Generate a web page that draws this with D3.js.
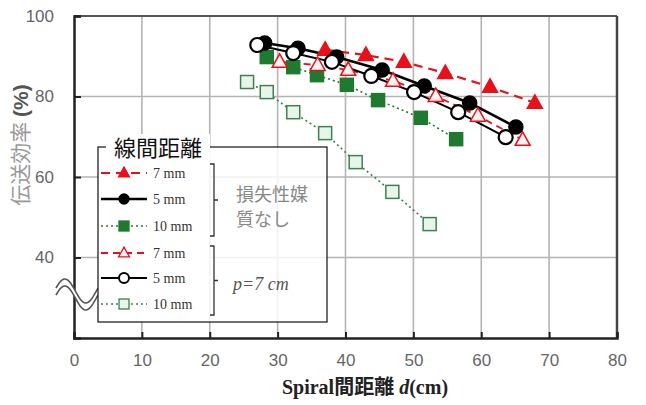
<!DOCTYPE html>
<html><head><meta charset="utf-8">
<script src="https://cdn.jsdelivr.net/npm/d3@7"></script>
<style>body{margin:0;background:#fff}svg{display:block}</style>
</head><body>
<script>
// ---- data ----
const xTicks = [0,10,20,30,40,50,60,70,80];
const yTicks = [40,60,80,100];
const lossless7_d   = [37.0, 43.0, 48.6, 54.7, 61.3, 67.9];
const lossless7_eff = [91.6, 90.3, 88.6, 85.8, 82.4, 78.4];
const lossless5_d   = [28.1, 33.0, 38.7, 45.4, 51.6, 58.3, 65.1];
const lossless5_eff = [93.3, 92.0, 89.8, 86.6, 82.6, 78.4, 72.4];
const lossless10_d   = [28.4, 32.3, 35.8, 40.2, 44.8, 51.1, 56.3];
const lossless10_eff = [89.8, 87.3, 85.3, 82.9, 79.1, 74.7, 69.4];
const p7_7_d   = [30.3, 35.9, 40.4, 47.0, 53.3, 59.5, 66.1];
const p7_7_eff = [88.6, 87.8, 86.6, 83.9, 80.1, 75.2, 69.2];
const p7_5_d   = [27.0, 32.3, 38.0, 43.8, 50.1, 56.6, 63.6];
const p7_5_eff = [92.8, 90.8, 88.6, 85.1, 81.1, 76.1, 69.9];
const p7_10_d   = [25.5, 28.4, 32.3, 37.0, 41.5, 46.9, 52.4];
const p7_10_eff = [83.6, 81.1, 76.1, 70.9, 63.7, 56.3, 48.3];
const legendLabels = ["7 mm","5 mm","10 mm","7 mm","5 mm","10 mm"];
const groupLabels = [["損失性媒","質なし"],["p=7 cm"]];
const legendTitle = "線間距離";
const xTitle = ["Spiral間距離 ","d","(cm)"];
const yTitle = ["伝送効率 ","(%)"];

const RED="#e8101a", GREEN="#1f7a30", GREEN_O="#3f7f52";
const styles = [
  {d:lossless10_d, e:lossless10_eff, shape:"sq", fill:GREEN, stroke:GREEN, line:GREEN, dash:"2,3", lw:1.6},
  {d:p7_10_d, e:p7_10_eff, shape:"sq", fill:"#e6f7ea", stroke:GREEN_O, line:GREEN_O, dash:"2,3", lw:1.6},
  {d:lossless7_d, e:lossless7_eff, shape:"tri", fill:RED, stroke:RED, line:RED, dash:"9,6", lw:2.2},
  {d:p7_7_d, e:p7_7_eff, shape:"tri", fill:"#fff2f2", stroke:RED, line:RED, dash:"7,5", lw:1.8},
  {d:lossless5_d, e:lossless5_eff, shape:"circ", fill:"#000", stroke:"#000", line:"#000", dash:null, lw:2.6},
  {d:p7_5_d, e:p7_5_eff, shape:"circ", fill:"#fff", stroke:"#000", line:"#000", dash:null, lw:2},
];

const W=646,H=405;
const svg=d3.select("body").append("svg").attr("width",W).attr("height",H);
const x=d3.scaleLinear().domain([0,80]).range([74,617]);
const y=d3.scaleLinear().domain([20,100]).range([338,16]);

// grid
svg.append("g").selectAll("line").data(xTicks.filter(t=>t>0&&t<80)).join("line")
  .attr("x1",d=>x(d)).attr("x2",d=>x(d)).attr("y1",y(100)).attr("y2",y(20))
  .attr("stroke","#b4b4b4").attr("stroke-width",1.6);
svg.append("g").selectAll("line").data(yTicks.filter(t=>t<100)).join("line")
  .attr("x1",x(0)).attr("x2",x(80)).attr("y1",d=>y(d)).attr("y2",d=>y(d))
  .attr("stroke","#b4b4b4").attr("stroke-width",1.6);

// frame
svg.append("line").attr("x1",x(0)).attr("x2",x(80)).attr("y1",y(100)).attr("y2",y(100)).attr("stroke","#555").attr("stroke-width",2);
svg.append("line").attr("x1",x(80)).attr("x2",x(80)).attr("y1",y(100)).attr("y2",y(20)).attr("stroke","#444").attr("stroke-width",2.5);

// axes via d3
const xAxis=d3.axisBottom(x).tickValues(xTicks).tickSize(-6).tickPadding(16).tickFormat(d3.format("d"));
const gx=svg.append("g").attr("transform",`translate(0,${y(20)})`).call(xAxis);
gx.select(".domain").attr("stroke","#222").attr("stroke-width",2.5);
gx.selectAll(".tick line").attr("stroke","#222").attr("stroke-width",2);
gx.selectAll("text").attr("fill","#666").attr("font-family","Liberation Sans, Arial, sans-serif").attr("font-size",17);

const yAxis=d3.axisLeft(y).tickValues(yTicks).tickSize(-7).tickPadding(20).tickFormat(d3.format("d"));
const gy=svg.append("g").attr("transform",`translate(${x(0)},0)`).call(yAxis);
gy.select(".domain").attr("stroke","#222").attr("stroke-width",2.5);
gy.selectAll(".tick line").attr("stroke","#222").attr("stroke-width",2);
gy.selectAll("text").attr("fill","#666").attr("font-family","Liberation Sans, Arial, sans-serif").attr("font-size",17);

// markers
function marker(g, shape, cx, cy, s, fill, stroke, sw){
  if(shape==="circ"){
    g.append("circle").attr("cx",cx).attr("cy",cy).attr("r",s/2).attr("fill",fill).attr("stroke",stroke).attr("stroke-width",sw);
  } else if(shape==="sq"){
    g.append("rect").attr("x",cx-s/2).attr("y",cy-s/2).attr("width",s).attr("height",s).attr("fill",fill).attr("stroke",stroke).attr("stroke-width",sw);
  } else {
    const h=s*0.9;
    g.append("path").attr("d",`M${cx},${cy-h*0.6}L${cx+s/2},${cy+h*0.4}L${cx-s/2},${cy+h*0.4}Z`)
      .attr("fill",fill).attr("stroke",stroke).attr("stroke-width",sw).attr("stroke-linejoin","miter");
  }
}
const line=d3.line().x(p=>x(p[0])).y(p=>y(p[1]));
const plot=svg.append("g");
styles.forEach(st=>{
  const pts=st.d.map((d,i)=>[d,st.e[i]]);
  plot.append("path").attr("d",line(pts)).attr("fill","none").attr("stroke",st.line)
    .attr("stroke-width",st.lw).attr("stroke-dasharray",st.dash);
});
styles.forEach(st=>{
  const g=plot.append("g");
  st.d.forEach((d,i)=>{
    const sz = st.shape==="circ"?14:(st.shape==="sq"?13:15);
    marker(g, st.shape, x(d), y(st.e[i]), sz, st.fill, st.stroke, st.shape==="circ"&&st.fill==="#fff"?2.2:1.5);
  });
});

// axis break squiggle
(function(){
  const g=svg.append("g");
  const f=(t,off)=>{ const xx=56+t*42; const yy=294+off-12*Math.sin(t*2*Math.PI+0.25); return [xx,yy]; };
  const N=40, top=[], bot=[];
  for(let i=0;i<=N;i++){ top.push(f(i/N,-3)); bot.push(f(i/N,4)); }
  g.append("path").attr("d","M"+top.map(p=>p.join(",")).join("L")+"L"+bot.slice().reverse().map(p=>p.join(",")).join("L")+"Z").attr("fill","#fff");
  g.append("path").attr("d","M"+top.map(p=>p.join(",")).join("L")).attr("fill","none").attr("stroke","#555").attr("stroke-width",1.6);
  g.append("path").attr("d","M"+bot.map(p=>p.join(",")).join("L")).attr("fill","none").attr("stroke","#555").attr("stroke-width",1.6);
})();

// legend
const L={x0:98,y0:147,x1:327,y1:322};
const lg=svg.append("g");
lg.append("rect").attr("x",L.x0).attr("y",L.y0).attr("width",L.x1-L.x0).attr("height",L.y1-L.y0)
  .attr("fill","#fff").attr("fill-opacity",0.82).attr("stroke","#111").attr("stroke-width",1.2);
lg.append("rect").attr("x",L.x0+1).attr("y",L.y0+12).attr("width",110).attr("height",L.y1-L.y0-13).attr("fill","#fff");
lg.append("rect").attr("x",106).attr("y",L.y0-13).attr("width",104).attr("height",26).attr("fill","#fff");
lg.append("text").attr("x",158).attr("y",L.y0+9).attr("text-anchor","middle")
  .attr("font-family","Noto Sans CJK JP, sans-serif").attr("font-size",22).attr("fill","#111").text(legendTitle);
const rowY=[173,199,226,253,278,304];
const legOrder=[2,4,0,3,5,1];
legOrder.forEach((si,i)=>{
  const st=styles[si], yy=rowY[i];
  lg.append("line").attr("x1",101).attr("x2",147).attr("y1",yy).attr("y2",yy).attr("stroke",st.line)
    .attr("stroke-width",st.lw).attr("stroke-dasharray",st.dash);
  const g=lg.append("g");
  marker(g, st.shape, 124, yy, st.shape==="tri"?11:10, st.fill, st.stroke, st.shape==="circ"&&st.fill==="#fff"?2:1.3);
  lg.append("text").attr("x",153).attr("y",yy+5).attr("font-family","Liberation Serif, serif").attr("font-size",14)
    .attr("fill","#333").text(legendLabels[i]);
});
// brackets
function bracket(y0,y1){
  const bx=214, ym=(y0+y1)/2;
  lg.append("path").attr("d",`M${bx-4},${y0}L${bx},${y0}L${bx},${y1}L${bx-4},${y1}M${bx},${ym}L${bx+4},${ym}`)
    .attr("fill","none").attr("stroke","#333").attr("stroke-width",1.3);
}
bracket(164,236); bracket(246,315);
lg.append("text").attr("x",236).attr("y",201).attr("font-family","Liberation Serif, Noto Sans CJK JP, serif").attr("font-size",18).attr("fill","#888").text(groupLabels[0][0]);
lg.append("text").attr("x",236).attr("y",226).attr("font-family","Liberation Serif, Noto Sans CJK JP, serif").attr("font-size",18).attr("fill","#888").text(groupLabels[0][1]);
lg.append("text").attr("x",233).attr("y",290).attr("font-family","Liberation Serif, serif").attr("font-style","italic").attr("font-size",18).attr("fill","#555").text(groupLabels[1][0]);

// axis titles
const xt=svg.append("text").attr("x",365).attr("y",394).attr("text-anchor","middle")
  .attr("font-family","Liberation Serif, Noto Sans CJK JP, serif").attr("font-weight","bold").attr("font-size",20).attr("fill","#222");
xt.append("tspan").text(xTitle[0]);
xt.append("tspan").attr("font-style","italic").text(xTitle[1]);
xt.append("tspan").text(xTitle[2]);

const yt=svg.append("text").attr("transform","translate(28,145) rotate(-90)").attr("text-anchor","middle")
  .attr("font-family","Noto Sans CJK JP, sans-serif").attr("font-size",21);
yt.append("tspan").attr("fill","#999").text(yTitle[0]);
yt.append("tspan").attr("fill","#555").attr("font-weight","bold").attr("font-family","Liberation Sans, sans-serif").text(yTitle[1]);
</script>
</body></html>
